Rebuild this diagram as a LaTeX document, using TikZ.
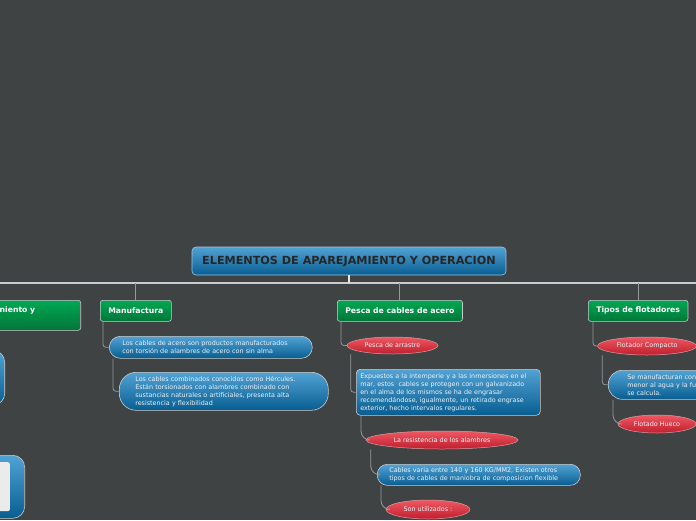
\documentclass[tikz,border=0pt]{standalone}
\usepackage{fontspec}
\setmainfont{DejaVu Sans}
\usetikzlibrary{shapes.geometric,calc}
\definecolor{mapbg}{RGB}{63,67,68}
\definecolor{mapblue}{RGB}{82,162,212}
\definecolor{mapbluedk}{RGB}{8,94,145}
\definecolor{mapgreen}{RGB}{0,168,82}
\definecolor{mapgreendk}{RGB}{0,118,56}
\definecolor{mapred}{RGB}{238,88,98}
\definecolor{mapreddk}{RGB}{192,30,46}
\definecolor{mapedge}{RGB}{200,204,206}
\definecolor{maplink}{RGB}{150,153,155}
\definecolor{maptext}{RGB}{236,242,246}

\begin{document}
\begin{tikzpicture}[
    x=1pt, y=-1pt,
    title/.style={draw=mapblue!60!white, line width=0.6pt, rounded corners=4pt, top color=mapblue, bottom color=mapbluedk, minimum width=314pt, minimum height=28pt, font=\bfseries\fontsize{11.2}{13}\selectfont, text=black!85},
    topic/.style={draw=mapedge, line width=0.6pt, rounded corners=2.5pt, top color=mapgreen, bottom color=mapgreendk, minimum height=21pt, inner xsep=8pt, inner ysep=2pt, font=\bfseries\fontsize{7.7}{9.5}\selectfont, text=white},
    pill/.style={draw=mapedge, line width=0.6pt, top color=mapblue, bottom color=mapbluedk, align=left, inner ysep=3pt, font=\fontsize{6.4}{8}\selectfont, text=maptext, anchor=north west},
    bubble/.style={ellipse, draw=mapedge!60!mapred, line width=0.5pt, top color=mapred, bottom color=mapreddk, inner sep=0pt, font=\fontsize{6.4}{8}\selectfont, text=maptext},
    link/.style={draw=maplink, line width=0.8pt, rounded corners=3pt},
    trunk/.style={draw=mapedge, line width=1.4pt},
]
\useasboundingbox (0,0) rectangle (696,520);
\clip (0,0) rectangle (696,520);
\fill[mapbg] (0,0) rectangle (696,520);

% main bar
\coordinate (barL) at (0,283);
\coordinate (barR) at (696,283);
\draw[trunk] (barL) -- (barR);

\node[title] (title) at (349,261) {ELEMENTOS DE APAREJAMIENTO Y OPERACION};
\draw[trunk, draw=white!90!black, line width=2pt] (title.south) -- (title.south |- barL);

% branches
\node[topic, anchor=north east, text width=73pt, minimum height=30pt, align=left] (leftTopic) at (81,300) {niento y\\\strut};
\node[topic, anchor=north west] (manu)  at (100,300) {Manufactura};
\node[topic, anchor=north west] (pesca) at (337,300) {Pesca de cables de acero};
\node[topic, anchor=north west] (tipos) at (588,300) {Tipos de flotadores};

\draw[link] (manu.north)  -- (manu.north |- barL);
\draw[link] (pesca.north) -- (pesca.north |- barL);
\draw[link] (tipos.north) -- (tipos.north |- barL);

% left side (cut off)
\node[pill, anchor=north east, minimum width=60pt, minimum height=55pt, rounded corners=12pt] (leftNote) at (5,350) {};
\node[pill, anchor=north east, minimum width=70pt, minimum height=63pt, rounded corners=12pt] (leftImg) at (25,455) {};
\node[anchor=north east, fill=black!8, rounded corners=2pt, minimum width=60pt, minimum height=49pt] (leftPic) at (10,462) {};

% Manufactura
\node[pill, inner xsep=13pt, text width=177pt, minimum height=22pt, rounded corners=11pt] (manuA) at (109,336)
    {Los cables de acero son productos manufacturados\\con torsión de alambres de acero con sin alma};
\node[pill, inner xsep=16pt, text width=177pt, minimum height=38pt, rounded corners=17pt] (manuB) at (119,372)
    {Los cables combinados conocidos como Hércules.\\Están torsionados con alambres combinado con\\sustancias naturales o artificiales, presenta alta\\resistencia y flexibilidad};

\draw[link] ($(manu.south west)+(3,0)$) |- (manuA.west);
\draw[link] ($(manuA.south west)+(4,0)$) |- (manuB.west);

% Pesca de cables de acero
\node[bubble, minimum width=91pt, minimum height=17pt] (arrastre) at (392.5,345.5) {Pesca de arrastre};
\node[pill, inner xsep=4pt, text width=176pt, minimum height=46pt, rounded corners=4pt] (expuestos) at (356,369)
    {Expuestos a la intemperie y a las inmersiones en el\\mar, estos\ \ cables se protegen con un galvanizado\\en el alma de los mismos se ha de engrasar\\recomendándose, igualmente, un retirado engrase\\exterior, hecho intervalos regulares.};
\node[bubble, minimum width=152pt, minimum height=18pt] (resistencia) at (442,440) {La resistencia de los alambres};
\node[pill, inner xsep=12pt, text width=179pt, minimum height=21pt, rounded corners=10pt] (cables) at (377,464)
    {Cables varia entre 140 y 160 KG/MM2, Existen otros\\tipos de cables de maniobra de composicion flexible};
\node[bubble, minimum width=84pt, minimum height=19pt] (sonUtil) at (428,509.5) {Son utilizados :};

\draw[link] ($(pesca.south west)+(4,0)$) |- (arrastre.west);
\draw[link] ($(arrastre.west |- arrastre.south)+(4,0)$) |- (expuestos.west);
\draw[link, rounded corners=9pt] ($(expuestos.south west)+(5,0)$) |- (resistencia.west);
\draw[link, rounded corners=9pt] ($(resistencia.west |- resistencia.south)+(5,0)$) |- (cables.west);
\draw[link, rounded corners=9pt] ($(cables.south west)+(4,0)$) |- (sonUtil.west);

% Tipos de flotadores
\node[bubble, minimum width=99pt, minimum height=18pt] (flotComp) at (647,346) {Flotador Compacto};
\node[pill, inner xsep=19pt, text width=130pt, minimum height=29pt, rounded corners=14pt] (flotMan) at (608,370)
    {Se manufacturan con\\menor al agua y la fu\\se calcula.};
\node[bubble, minimum width=78pt, minimum height=18pt] (flotHueco) at (657,424) {Flotado Hueco};

\draw[link] ($(tipos.south west)+(5,0)$) |- (flotComp.west);
\draw[link] ($(flotComp.west |- flotComp.south)+(5,0)$) |- (flotMan.west);
\draw[link, rounded corners=9pt] ($(flotMan.south west)+(5,0)$) |- (flotHueco.west);
\end{tikzpicture}
\end{document}
